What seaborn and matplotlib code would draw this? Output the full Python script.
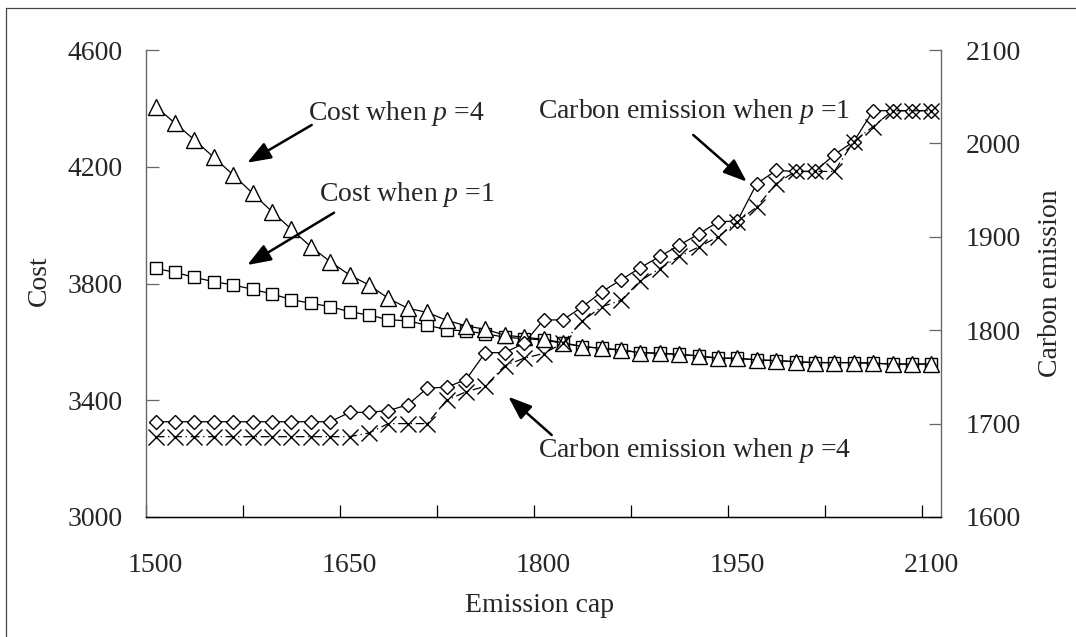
import matplotlib
matplotlib.use("Agg")
import matplotlib.pyplot as plt
import numpy as np
import seaborn as sns
from matplotlib.lines import Line2D
from matplotlib.ticker import FixedLocator

# --------------------
# data
# --------------------
emission_cap = list(range(1500, 2101, 15))

cost_p1 = [3852, 3838, 3821, 3806, 3795, 3780, 3764, 3745, 3732, 3721,
           3703, 3692, 3676, 3672, 3657, 3642, 3637, 3628, 3616, 3611,
           3607, 3595, 3584, 3578, 3572, 3563, 3561, 3557, 3552, 3544,
           3544, 3538, 3536, 3532, 3529, 3529, 3529, 3527, 3524, 3524, 3524]

cost_p4 = [4406, 4349, 4292, 4232, 4172, 4109, 4046, 3986, 3926, 3875,
           3829, 3795, 3749, 3715, 3701, 3674, 3655, 3643, 3623, 3616,
           3609, 3597, 3584, 3578, 3572, 3563, 3561, 3557, 3552, 3544,
           3544, 3538, 3536, 3532, 3529, 3529, 3529, 3527, 3524, 3524, 3524]

carbon_p1 = [1702, 1702, 1702, 1702, 1702, 1702, 1702, 1702, 1702, 1702,
             1712, 1712, 1714, 1720, 1738, 1739, 1747, 1776, 1776, 1786,
             1811, 1811, 1825, 1841, 1854, 1867, 1879, 1891, 1903, 1916,
             1917, 1957, 1971, 1970, 1970, 1988, 2002, 2035, 2035, 2035, 2035]

carbon_p4 = [1686, 1686, 1686, 1686, 1686, 1686, 1686, 1686, 1686, 1686,
             1686, 1690, 1700, 1700, 1700, 1725, 1734, 1740, 1762, 1770,
             1775, 1786, 1810, 1825, 1832, 1853, 1866, 1879, 1889, 1900,
             1916, 1932, 1957, 1970, 1970, 1970, 2002, 2018, 2035, 2035, 2035]

x_labels = [1500, 1650, 1800, 1950, 2100]
cost_ticks = [3000, 3400, 3800, 4200, 4600]
carbon_ticks = [1600, 1700, 1800, 1900, 2000, 2100]

sns.set_style("white")
plt.rcParams['font.family'] = ['Liberation Serif', 'DejaVu Serif']
plt.rcParams['mathtext.fontset'] = 'custom'
plt.rcParams['mathtext.rm'] = 'Liberation Serif'
plt.rcParams['mathtext.it'] = 'Liberation Serif:italic'

FS = 20
fig = plt.figure(figsize=(10.76, 6.37), dpi=100)
ax = fig.add_axes([146 / 1076, 120 / 637, 795 / 1076, 467 / 637])
ax2 = ax.twinx()

line_kw = dict(color='black', lw=0.9, markerfacecolor='white',
               markeredgecolor='black', markeredgewidth=1.0)

sns.lineplot(x=emission_cap, y=cost_p1, ax=ax, marker='s', markersize=8.5, **line_kw)
sns.lineplot(x=emission_cap, y=cost_p4, ax=ax, marker='^', markersize=11.5, **line_kw)
sns.lineplot(x=emission_cap, y=carbon_p1, ax=ax2, marker='D', markersize=7.5, **line_kw)
sns.lineplot(x=emission_cap, y=carbon_p4, ax=ax2, marker='x', markersize=11,
             linestyle=(0, (7, 3, 1, 3)), **line_kw)

# x: category-style axis, ticks between points, labels every 10 points
ax.set_xlim(1492.5, 2107.5)
ax.xaxis.set_major_locator(FixedLocator(x_labels))
ax.xaxis.set_minor_locator(FixedLocator(list(np.arange(1492.5, 2100, 75))))
ax.tick_params(axis='x', which='major', length=0, pad=26, labelsize=FS)
ax.tick_params(axis='x', which='minor', direction='in', length=9, width=0.9,
               color='black', bottom=True)

ax.set_ylim(3000, 4600)
ax.set_yticks(cost_ticks)
ax.tick_params(axis='y', direction='in', length=9, width=0.9, color='#666666',
               pad=17, labelsize=FS, left=True)

ax2.set_ylim(1600, 2100)
ax2.set_yticks(carbon_ticks)
ax2.tick_params(axis='y', direction='in', length=9, width=0.9, color='#666666',
                pad=18, labelsize=FS, right=True)

for a in (ax, ax2):
    a.spines['top'].set_visible(False)
    a.grid(False)
ax.spines['right'].set_visible(False)
ax.spines['left'].set_color('#666666')
ax2.spines['left'].set_visible(False)
ax2.spines['right'].set_color('#666666')
ax2.spines['bottom'].set_color('black')
ax.spines['bottom'].set_color('black')
for s in ('left', 'bottom'):
    ax.spines[s].set_linewidth(1.0)
ax2.spines['right'].set_linewidth(1.0)

ax.set_xlabel('Emission cap', fontsize=FS)
ax.set_ylabel('Cost', fontsize=FS)
ax2.set_ylabel('Carbon emission', fontsize=FS)
ax.xaxis.set_label_coords(0.4956, -0.162)
ax.yaxis.set_label_coords(-0.118, 0.507)
ax2.yaxis.set_label_coords(1.122, 0.5)

# annotations (axes fraction)
texts = [
    ("Cost when $p$ =4", 0.2038, 0.850),
    ("Cost when $p$ =1", 0.2180, 0.6767),
    ("Carbon emission when $p$ =1", 0.4935, 0.8537),
    ("Carbon emission when $p$ =4", 0.4935, 0.1278),
]
for t, tx, ty in texts:
    ax.text(tx, ty, t, transform=ax.transAxes, fontsize=FS, ha='left', va='baseline')

arrows = [
    ((0.2084, 0.8394), (0.1274, 0.7587)),
    ((0.2365, 0.6516), (0.1274, 0.5396)),
    ((0.6884, 0.8180), (0.7556, 0.7180)),
    ((0.5103, 0.1756), (0.4557, 0.2576)),
]
for tail, tip in arrows:
    ax2.annotate('', xy=tip, xycoords='axes fraction', xytext=tail,
                 textcoords='axes fraction',
                 arrowprops=dict(arrowstyle='-|>,head_length=0.8,head_width=0.3',
                                 color='black', lw=1.8, mutation_scale=18,
                                 shrinkA=0, shrinkB=0))

# outer frame (left and top edges visible in the reference)
fig.add_artist(Line2D([6 / 1076, 6 / 1076], [0, 1 - 8 / 637], transform=fig.transFigure,
                      color='#444444', lw=0.9))
fig.add_artist(Line2D([6 / 1076, 1], [1 - 8 / 637, 1 - 8 / 637], transform=fig.transFigure,
                      color='#444444', lw=0.9))

fig.savefig('out.png', dpi=100)
